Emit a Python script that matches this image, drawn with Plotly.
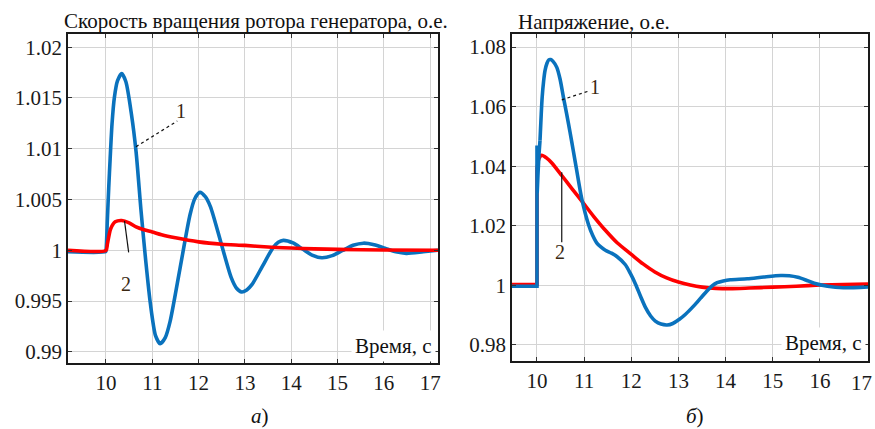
import plotly.graph_objects as go

# ---------------- data ----------------
# Left panel: rotor speed, p.u.
left_t_1 = [9.18, 9.99, 10.0, 10.03, 10.06, 10.09, 10.13, 10.18, 10.25, 10.34, 10.43, 10.55, 10.65,
            10.755, 10.86, 10.96, 11.07, 11.17, 11.28, 11.385, 11.6, 11.815, 11.92, 12.03,
            12.14, 12.255, 12.48, 12.705, 12.82, 12.93, 13.04, 13.155, 13.38, 13.605, 13.72,
            13.83, 14.04, 14.245, 14.45, 14.66, 14.885, 15.11, 15.335, 15.56, 15.79, 16.025,
            16.26, 16.49, 16.85, 17.17]
left_v_1 = [0.99985, 0.99985, 0.99995, 1.0030, 1.0062, 1.0090, 1.0124, 1.0150, 1.0167, 1.0174, 1.0166,
            1.0134, 1.0097, 1.0040, 0.9989, 0.9947, 0.9916, 0.9908, 0.9914, 0.9930, 0.99825,
            1.0035, 1.0051, 1.0057, 1.0053, 1.0043, 1.0008, 0.9973, 0.99626, 0.9959, 0.9961,
            0.99664, 0.99844, 1.00024, 1.00079, 1.00098, 1.00072, 1.00012, 0.99952, 0.99926,
            0.99947, 0.99998, 1.00049, 1.0007, 1.00055, 1.0002, 0.99985, 0.9997, 0.99985, 1.0]

left_t_2 = [9.18, 10.0, 10.03, 10.1, 10.2, 10.34, 10.5, 10.65, 10.8, 11.0, 11.2, 11.5, 12.0,
            12.5, 13.0, 13.5, 14.0, 14.5, 15.0, 16.0, 17.17]
left_v_2 = [1.0, 1.0, 1.0006, 1.0021, 1.0028, 1.00293, 1.0027, 1.0023, 1.00205, 1.0018,
            1.00153, 1.00123, 1.00083, 1.0006, 1.00048, 1.00032, 1.00022, 1.00014, 1.00009,
            1.00003, 1.0]

# Right panel: voltage, p.u.
right_t_1 = [9.47, 10.0, 10.0, 10.004, 10.02, 10.04, 10.064, 10.09, 10.11, 10.14, 10.17, 10.21,
             10.25, 10.29, 10.34, 10.42, 10.49, 10.56, 10.63, 10.70, 10.77, 10.84, 10.95, 11.09,
             11.18, 11.27, 11.36, 11.45, 11.58, 11.7, 11.87, 11.98, 12.09, 12.2, 12.3, 12.41,
             12.51, 12.63, 12.76, 12.88, 13.02, 13.15, 13.33, 13.47, 13.61, 13.72, 13.82, 13.95,
             14.1, 14.46, 14.81, 15.17, 15.35, 15.53, 15.7, 15.88, 16.16, 16.5, 17.02]
right_v_1 = [0.9997, 0.9997, 1.047, 1.031, 1.037, 1.0435, 1.0487, 1.0575, 1.0632, 1.0685,
             1.0721, 1.0745, 1.0757, 1.0758, 1.0752, 1.0732, 1.0692, 1.0632, 1.0575, 1.0515,
             1.0452, 1.0388, 1.0290, 1.0205, 1.0168, 1.0142, 1.0128, 1.0118, 1.0108, 1.0096,
             1.0070, 1.0040, 1.0004, 0.9962, 0.9926, 0.9897, 0.9880, 0.9870, 0.9867, 0.9872,
             0.9886, 0.9903, 0.9932, 0.9957, 0.9982, 0.9999, 1.0009, 1.0015, 1.0019, 1.0022,
             1.0028, 1.0033, 1.0032, 1.0027, 1.0018, 1.0007, 0.9997, 0.9992, 0.9995]

right_t_2 = [9.47, 10.0, 10.0, 10.04, 10.1, 10.2, 10.31, 10.53, 10.74, 10.95, 11.2, 11.45,
             11.7, 12.0, 12.25, 12.5, 12.75, 13.0, 13.25, 13.5, 13.8, 14.1, 14.5, 15.0, 15.5,
             16.0, 16.5, 17.02]
right_v_2 = [1.0003, 1.0003, 1.039, 1.0425, 1.0437, 1.0428, 1.0412, 1.0368, 1.0325, 1.0283,
             1.0232, 1.0185, 1.0143, 1.0104, 1.0072, 1.0045, 1.0025, 1.0011, 1.0001, 0.9994,
             0.9990, 0.9989, 0.9991, 0.9994, 0.9997, 1.0001, 1.0003, 1.0004]

x_ticks = [10, 11, 12, 13, 14, 15, 16, 17]
left_y_ticks = [0.99, 0.995, 1.0, 1.005, 1.01, 1.015, 1.02]
left_y_text = ["0.99", "0.995", "1", "1.005", "1.01", "1.015", "1.02"]
right_y_ticks = [0.98, 1.0, 1.02, 1.04, 1.06, 1.08]
right_y_text = ["0.98", "1", "1.02", "1.04", "1.06", "1.08"]

title_left = "Скорость вращения ротора генератора, о.е."
title_right = "Напряжение, о.е."
x_label = "Время, с"

BLUE = "#0a72bd"
RED = "#ff0000"
FONT = "Liberation Serif"
W, H = 875, 429
ML, MR, MT, MB = 68, 7, 34, 66
PW, PH = W - ML - MR, H - MT - MB


def px(p):
    return (p - ML) / PW


def py(p):
    return (H - MB - p) / PH


LW = 3.6
fig = go.Figure()
# left: blue first, red on top
fig.add_trace(go.Scatter(x=left_t_1, y=left_v_1, mode="lines",
                         line=dict(color=BLUE, width=LW, shape="spline", smoothing=0.7),
                         xaxis="x", yaxis="y", showlegend=False))
fig.add_trace(go.Scatter(x=left_t_2, y=left_v_2, mode="lines",
                         line=dict(color=RED, width=LW, shape="spline", smoothing=0.7),
                         xaxis="x", yaxis="y", showlegend=False))
# right: red first, blue on top; the step at t=10 is drawn straight, the rest smoothed
fig.add_trace(go.Scatter(x=right_t_2[:3], y=right_v_2[:3], mode="lines", line=dict(color=RED, width=LW),
                         xaxis="x2", yaxis="y2", showlegend=False))
fig.add_trace(go.Scatter(x=right_t_2[2:], y=right_v_2[2:], mode="lines",
                         line=dict(color=RED, width=LW, shape="spline", smoothing=0.7),
                         xaxis="x2", yaxis="y2", showlegend=False))
fig.add_trace(go.Scatter(x=right_t_1[:7], y=right_v_1[:7], mode="lines", line=dict(color=BLUE, width=LW),
                         xaxis="x2", yaxis="y2", showlegend=False))
fig.add_trace(go.Scatter(x=right_t_1[6:], y=right_v_1[6:], mode="lines",
                         line=dict(color=BLUE, width=LW, shape="spline", smoothing=0.7),
                         xaxis="x2", yaxis="y2", showlegend=False))

axis_common = dict(showgrid=True, gridcolor="#d4d4d4", gridwidth=1, showline=True, linecolor="#1a1a1a",
                   linewidth=1.6, mirror="ticks", ticks="inside", ticklen=4, tickcolor="#333", tickwidth=1,
                   zeroline=False, automargin=False,
                   tickfont=dict(family=FONT, size=21, color="#1a1a1a"))

fig.update_layout(
    width=W, height=H, autosize=False,
    margin=dict(l=ML, r=MR, t=MT, b=MB, pad=0),
    paper_bgcolor="white", plot_bgcolor="white",
    xaxis=dict(domain=[0, (438 - ML) / PW], range=[9.18, 17.17], tickvals=x_ticks, anchor="y", **axis_common),
    yaxis=dict(domain=[0, 1], range=[0.9889, 1.0213], tickvals=left_y_ticks,
               ticktext=left_y_text, anchor="x", **axis_common),
    xaxis2=dict(domain=[(512 - ML) / PW, 1], range=[9.47, 17.02], tickvals=x_ticks,
                ticktext=[str(v) if v < 17 else "" for v in x_ticks], anchor="y2", **axis_common),
    yaxis2=dict(domain=[py(361), 1], range=[0.9746, 1.0844], tickvals=right_y_ticks,
                ticktext=right_y_text, anchor="x2", **axis_common),
)

txt = dict(family=FONT, size=21, color="#111")
lab = dict(family=FONT, size=20, color="#3a2812")
annotations = [
    dict(text=title_left, x=px(62), y=py(21), xref="paper", yref="paper", xanchor="left", yanchor="middle",
         showarrow=False, font=txt),
    dict(text=title_right, x=px(516), y=py(22), xref="paper", yref="paper", xanchor="left", yanchor="middle",
         showarrow=False, font=txt),
    dict(text=x_label, x=px(436), y=py(346), xref="paper", yref="paper", xanchor="right", yanchor="middle",
         showarrow=False, font=txt, bgcolor="white", borderpad=3),
    dict(text=x_label, x=px(866), y=py(343), xref="paper", yref="paper", xanchor="right", yanchor="middle",
         showarrow=False, font=txt, bgcolor="white", borderpad=3),
    dict(text="<i>а</i>)", x=px(260), y=py(416), xref="paper", yref="paper", xanchor="center", yanchor="middle",
         showarrow=False, font=dict(family=FONT, size=21, color="#111")),
    dict(text="<i>б</i>)", x=px(695), y=py(416), xref="paper", yref="paper", xanchor="center", yanchor="middle",
         showarrow=False, font=dict(family=FONT, size=21, color="#111")),
    # last x tick label of the right panel, kept inside the picture edge
    dict(text=str(x_ticks[-1]), x=px(874), y=py(383), xref="paper", yref="paper", xanchor="right",
         yanchor="middle", showarrow=False, font=dict(family=FONT, size=21, color="#1a1a1a")),
    # curve labels
    dict(text="1", x=11.63, y=1.0137, xref="x", yref="y", showarrow=False, font=lab),
    dict(text="2", x=10.43, y=0.99665, xref="x", yref="y", showarrow=False, font=lab),
    dict(text="1", x=11.23, y=1.0665, xref="x2", yref="y2", showarrow=False, font=lab),
    dict(text="2", x=10.49, y=1.0112, xref="x2", yref="y2", showarrow=False, font=lab),
]
fig.update_layout(annotations=annotations)

shapes = [
    dict(type="line", xref="x", yref="y", x0=10.648, y0=1.0102, x1=11.54, y1=1.01273,
         line=dict(color="#111", width=1.2, dash="dot")),
    dict(type="line", xref="x", yref="y", x0=10.40, y0=1.0029, x1=10.49, y1=0.9998,
         line=dict(color="#111", width=1.2)),
    dict(type="line", xref="x2", yref="y2", x0=10.525, y0=1.0623, x1=11.128, y1=1.0654,
         line=dict(color="#111", width=1.2, dash="dot")),
    dict(type="line", xref="x2", yref="y2", x0=10.525, y0=1.038, x1=10.525, y1=1.0145,
         line=dict(color="#111", width=1.2)),
]
fig.update_layout(shapes=shapes)

fig.write_html("out.html", config={"displayModeBar": False},
               post_script="document.body.style.margin='0px';document.body.style.padding='0px';")
